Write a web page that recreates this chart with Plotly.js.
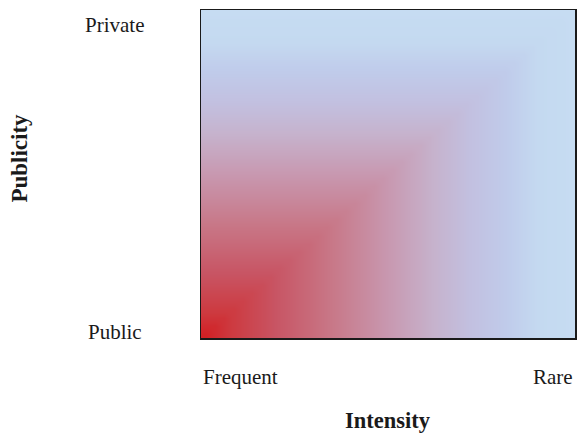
<!DOCTYPE html>
<html><head><meta charset="utf-8">
<script src="https://cdn.plot.ly/plotly-3.0.1.min.js"></script>
<style>html,body{margin:0;padding:0;background:#fff}#c{width:577px;height:433px}</style>
</head><body><div id="c"></div>
<script>
// Colour ramp (position along the gradient -> colour)
const rampPos = [0, 0.08, 0.2, 0.35, 0.5, 0.62, 0.72, 0.82, 0.9, 1];
const rampCol = ['#d21c20','#cd3a40','#c85564','#c87888','#c898b0','#c6b2cc','#c2c0e0','#c0cceb','#c4d9f0','#c6dcf2'];
const xLabels = ['Frequent', 'Rare'];
const yLabels = ['Public', 'Private'];
const xTitle = 'Intensity';
const yTitle = 'Publicity';
const steps = 40;

const xs = [], ys = [], z = [];
for (let i = 0; i < steps; i++) { xs.push((i + 0.5) / steps); ys.push((i + 0.5) / steps); }
for (let j = 0; j < steps; j++) {
  const row = [];
  for (let i = 0; i < steps; i++) row.push(Math.max(xs[i], ys[j]));
  z.push(row);
}
const colorscale = rampPos.map((p, k) => [p, rampCol[k]]);

const serif = 'Liberation Serif, Times New Roman, serif';
const data = [{
  type: 'heatmap', x: xs, y: ys, z: z, zmin: 0, zmax: 1,
  colorscale: colorscale, zsmooth: 'best', showscale: false, hoverinfo: 'skip'
}];
const layout = {
  width: 577, height: 433,
  margin: {l: 201, r: 2, t: 10, b: 95},
  paper_bgcolor: '#fff', plot_bgcolor: '#fff',
  showlegend: false,
  xaxis: {range: [0, 1], showticklabels: false, ticks: '', showgrid: false, zeroline: false,
          showline: true, mirror: true, linecolor: '#1a1a1a', linewidth: 1.5},
  yaxis: {range: [0, 1], showticklabels: false, ticks: '', showgrid: false, zeroline: false,
          showline: true, mirror: true, linecolor: '#1a1a1a', linewidth: 1.5},
  annotations: [
    {text: xLabels[0], xref: 'paper', yref: 'paper', x: 0, y: -0.12, xanchor: 'left', yanchor: 'middle', showarrow: false, font: {family: serif, size: 21, color: '#1a1a1a'}},
    {text: xLabels[1], xref: 'paper', yref: 'paper', x: 1, y: -0.12, xanchor: 'right', yanchor: 'middle', showarrow: false, font: {family: serif, size: 21, color: '#1a1a1a'}},
    {text: yLabels[0], xref: 'paper', yref: 'paper', x: -0.23, y: 0.018, xanchor: 'center', yanchor: 'middle', showarrow: false, font: {family: serif, size: 21, color: '#1a1a1a'}},
    {text: yLabels[1], xref: 'paper', yref: 'paper', x: -0.23, y: 0.954, xanchor: 'center', yanchor: 'middle', showarrow: false, font: {family: serif, size: 21, color: '#1a1a1a'}},
    {text: '<b>' + xTitle + '</b>', xref: 'paper', yref: 'paper', x: 0.4995, y: -0.251, xanchor: 'center', yanchor: 'middle', showarrow: false, borderpad: 0, borderwidth: 0, font: {family: serif, size: 22.5, color: '#1a1a1a'}},
    {text: '<b>' + yTitle + '</b>', xref: 'paper', yref: 'paper', x: -0.484, y: 0.55, xanchor: 'center', yanchor: 'middle', textangle: -90, showarrow: false, font: {family: serif, size: 23, color: '#1a1a1a'}}
  ]
};
Plotly.newPlot('c', data, layout, {displayModeBar: false, staticPlot: true});
</script></body></html>
